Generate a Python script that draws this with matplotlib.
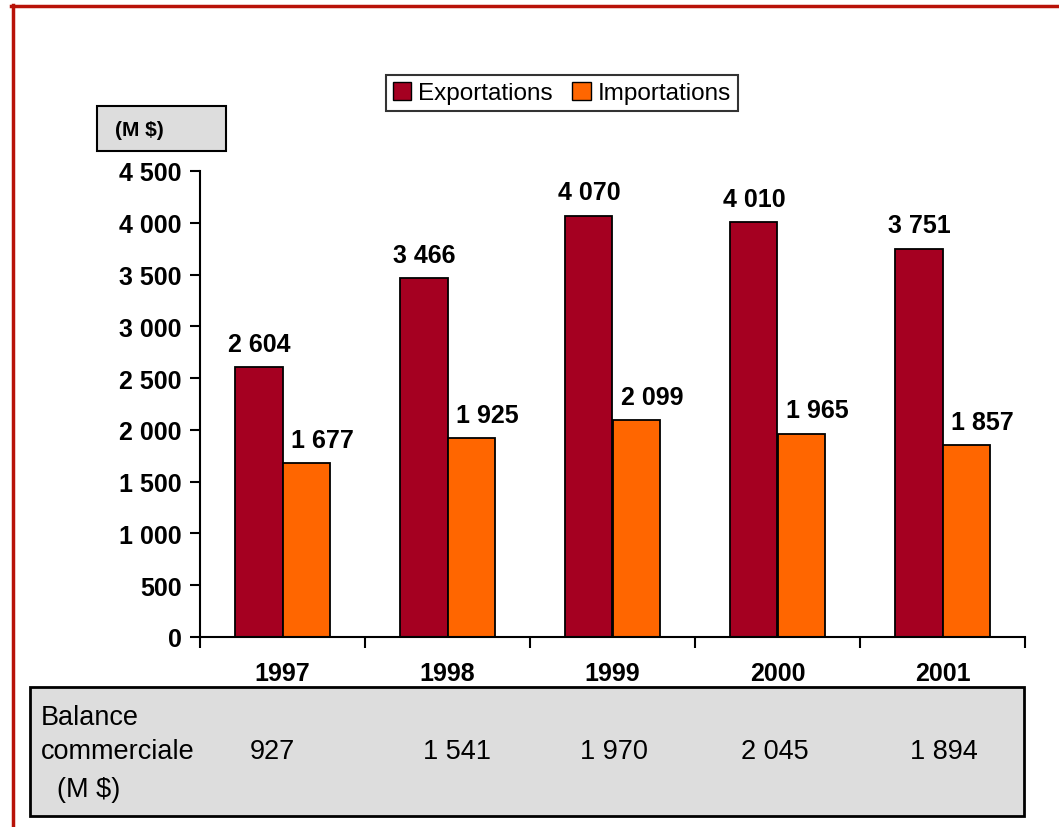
import matplotlib.pyplot as plt
import numpy as np
from matplotlib.patches import Rectangle, Patch
from matplotlib.lines import Line2D
from matplotlib.ticker import FuncFormatter, FixedLocator

# data
years = ["1997", "1998", "1999", "2000", "2001"]
exports = [2604, 3466, 4070, 4010, 3751]
imports = [1677, 1925, 2099, 1965, 1857]
balance = [927, 1541, 1970, 2045, 1894]

EXP_COLOR = "#A50021"
IMP_COLOR = "#FF6600"
W, H = 1059, 828


def fmt(v):
    return f"{int(v):,}".replace(",", " ")


def px(x, y):
    # pixel coords (top-left origin) -> figure fraction
    return x / W, 1 - y / H


plt.rcParams["font.family"] = ["Liberation Sans", "DejaVu Sans"]

fig = plt.figure(figsize=(W / 100, H / 100), dpi=100)

# plot area
ax_left, ax_right, ax_top, ax_bottom = 200, 1025, 172, 638
ax = fig.add_axes([ax_left / W, 1 - ax_bottom / H,
                   (ax_right - ax_left) / W, (ax_bottom - ax_top) / H])

x = np.arange(len(years))
bw = 0.285
ax.bar(x - bw / 2, exports, bw, color=EXP_COLOR, edgecolor="black", linewidth=1.3)
ax.bar(x + bw / 2, imports, bw, color=IMP_COLOR, edgecolor="black", linewidth=1.3)

for i in range(len(years)):
    ax.annotate(fmt(exports[i]), (x[i] - bw / 2, exports[i]), xytext=(0, 8),
                textcoords="offset points", ha="center", va="bottom",
                fontsize=18, fontweight="bold")
    ax.annotate(fmt(imports[i]), (x[i] + bw / 2, imports[i]), xytext=(12, 8),
                textcoords="offset points", ha="center", va="bottom",
                fontsize=18, fontweight="bold")

ax.set_xlim(-0.5, len(years) - 0.5)
ax.set_ylim(0, 4500)
ax.set_yticks(np.arange(0, 4501, 500))
ax.yaxis.set_major_formatter(FuncFormatter(lambda v, p: fmt(v)))
ax.set_xticks(x)
ax.set_xticklabels(years)
ax.xaxis.set_minor_locator(FixedLocator(np.arange(-0.5, len(years), 1.0)))
ax.tick_params(axis="x", which="major", length=0, pad=17, labelsize=18)
ax.tick_params(axis="x", which="minor", length=8, width=1.5, direction="out")
ax.tick_params(axis="y", length=7, width=1.5, pad=6, labelsize=18)
for lab in ax.get_xticklabels() + ax.get_yticklabels():
    lab.set_fontweight("bold")
for s in ["top", "right"]:
    ax.spines[s].set_visible(False)
for s in ["left", "bottom"]:
    ax.spines[s].set_linewidth(1.5)

# legend
handles = [Patch(facecolor=EXP_COLOR, edgecolor="black", label="Exportations"),
           Patch(facecolor=IMP_COLOR, edgecolor="black", label="Importations")]
leg = fig.legend(handles=handles, loc="center", bbox_to_anchor=px(562, 94), ncol=2,
                 fontsize=17.5, frameon=True, fancybox=False, edgecolor="black",
                 handlelength=0.75, handleheight=0.75, handletextpad=0.3,
                 columnspacing=0.8, borderpad=0.3, borderaxespad=0)
leg.get_frame().set_linewidth(1.5)

# unit box
fig.patches.append(Rectangle(px(97, 152), 129 / W, 45 / H, transform=fig.transFigure,
                             facecolor="#DDDDDD", edgecolor="black", linewidth=1.5))
fig.text(*px(115, 131), "(M $)", fontsize=15, fontweight="bold", va="center", ha="left")

# balance table
fig.patches.append(Rectangle(px(30, 817), 994 / W, 129 / H, transform=fig.transFigure,
                             facecolor="#DDDDDD", edgecolor="black", linewidth=2))
tsize = 19.5
fig.text(*px(41, 718), "Balance", fontsize=tsize, va="center", ha="left")
fig.text(*px(41, 752), "commerciale", fontsize=tsize, va="center", ha="left")
fig.text(*px(57, 790), "(M $)", fontsize=tsize, va="center", ha="left")
bal_x = [272, 457, 614, 775, 944]
for bx, v in zip(bal_x, balance):
    fig.text(*px(bx, 752), fmt(v), fontsize=tsize, va="center", ha="center")

# red frame
frame = "#B81208"
fig.add_artist(Line2D([11 / W, 1], [1 - 6.5 / H] * 2, transform=fig.transFigure,
                      color=frame, linewidth=2.5))
fig.add_artist(Line2D([12.5 / W] * 2, [0, 1 - 5.5 / H], transform=fig.transFigure,
                      color=frame, linewidth=2.5))

fig.savefig("out.png", dpi=100)
